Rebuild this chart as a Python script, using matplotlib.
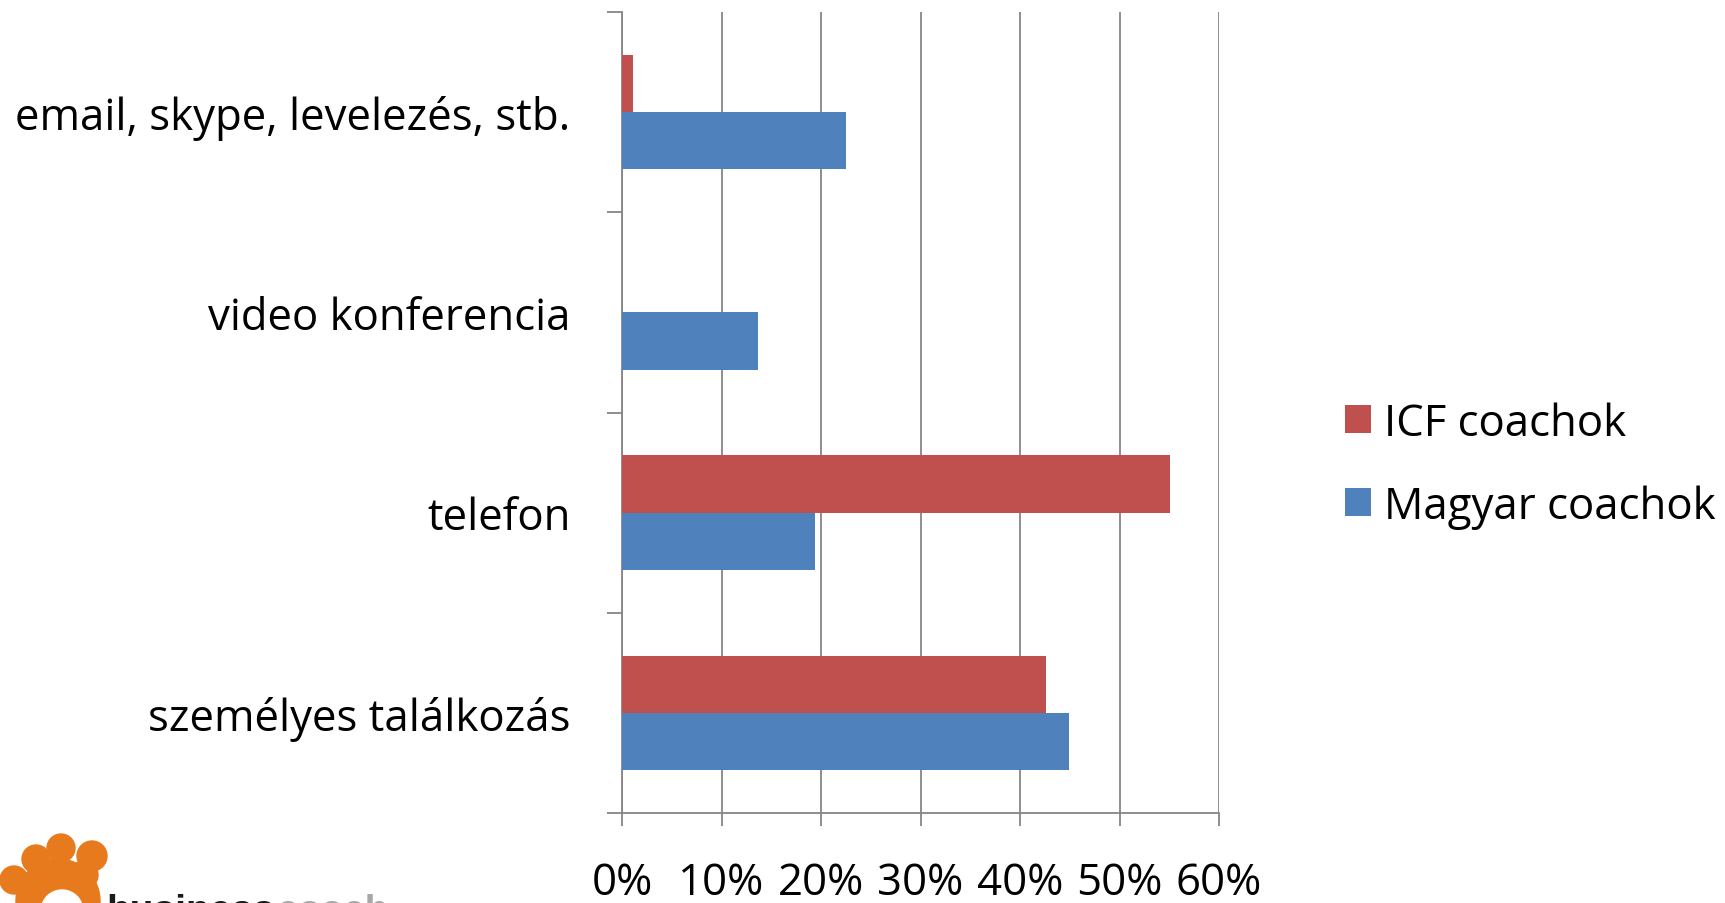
import matplotlib
matplotlib.use("Agg")
import matplotlib.pyplot as plt
import numpy as np
from matplotlib.patches import Circle

categories = ["személyes találkozás", "telefon", "video konferencia", "email, skype, levelezés, stb."]
icf_values = [42.6, 55.1, 0.0, 1.1]
magyar_values = [44.9, 19.4, 13.7, 22.5]
series_names = ["ICF coachok", "Magyar coachok"]
xticks = [0, 10, 20, 30, 40, 50, 60]
xtick_labels = ["0%", "10%", "20%", "30%", "40%", "50%", "60%"]

RED = "#C0504D"
BLUE = "#4F81BD"
GRID = "#868686"
FONT = ["Open Sans", "DejaVu Sans"]
FS = 31.5

plt.rcParams["font.family"] = FONT

fig = plt.figure(figsize=(17.25, 9.04), dpi=100)
ax = fig.add_axes([622/1725, 1-814/904, (1219-622)/1725, (814-13)/904])

y = np.arange(len(categories))
h = 0.286
b_icf = ax.barh(y + h/2, icf_values, height=h, color=RED, label=series_names[0], zorder=3)
b_mag = ax.barh(y - h/2, magyar_values, height=h, color=BLUE, label=series_names[1], zorder=3)

ax.set_xlim(0, 60)
ax.set_ylim(-0.5, len(categories) - 0.5)

ax.set_xticks(xticks)
ax.set_xticklabels(xtick_labels, fontsize=FS)
ax.tick_params(axis="x", direction="out", length=9, width=1.3, color=GRID, pad=25)

ax.set_yticks(np.arange(-0.5, len(categories), 1.0))
ax.set_yticklabels([])
ax.tick_params(axis="y", which="major", direction="out", length=11, width=1.3, color=GRID)
ax.set_yticks(y, minor=True)
ax.set_yticklabels(categories, minor=True, fontsize=FS)
ax.tick_params(axis="y", which="minor", length=0, pad=37)

ax.xaxis.grid(True, color=GRID, linewidth=1.3, zorder=0)
ax.set_axisbelow(True)
for s in ["top", "right"]:
    ax.spines[s].set_visible(False)
for s in ["left", "bottom"]:
    ax.spines[s].set_color(GRID)
    ax.spines[s].set_linewidth(1.3)

fig.legend(handles=[b_icf, b_mag], labels=series_names, loc="center left",
           bbox_to_anchor=(1323/1725, 1-466/904), frameon=False, fontsize=31.5,
           handlelength=0.6, handleheight=0.6, handletextpad=0.3,
           labelspacing=0.88, borderpad=0)

# logo (decorative), drawn in a pixel-scaled helper axes
lax = fig.add_axes([0, 0, 420/1725, 100/904])
lax.set_xlim(0, 420)
lax.set_ylim(904, 804)
lax.axis("off")
orange = "#E87A1E"
for cx, cy, r in [(58, 902, 42), (14, 881, 14), (36, 860, 14), (61, 849, 14), (92, 857, 15), (84, 876, 14)]:
    lax.add_patch(Circle((cx, cy), r, color=orange, zorder=5))
lax.add_patch(Circle((62, 912), 21, color="white", zorder=6))
lax.text(106, 922, "business", fontsize=28, fontweight="bold", color="#1A1A1A",
         family=["Liberation Sans", "DejaVu Sans"], va="baseline", clip_on=False)
lax.text(276, 922, "coach", fontsize=28, fontweight="bold", color="#A8A8A8",
         family=["Liberation Sans", "DejaVu Sans"], va="baseline", clip_on=False)

fig.savefig("out.png", dpi=100)
